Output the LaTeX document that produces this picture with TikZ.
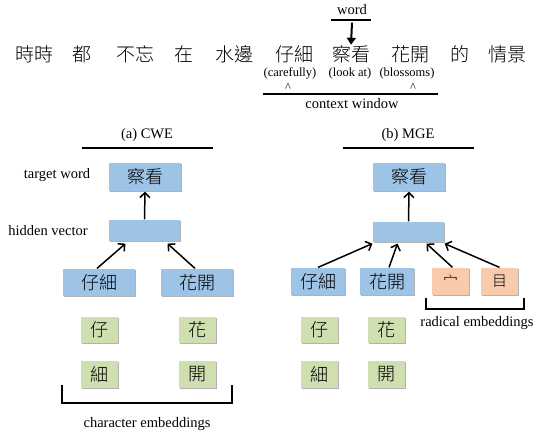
\documentclass[tikz,border=0pt]{standalone}
\usepackage{fontspec}
\setmainfont{Liberation Serif}
\newfontfamily\cjk{Noto Sans CJK TC Light}
\usepackage{xcolor}
\usetikzlibrary{positioning, arrows.meta, shadows}
\definecolor{wordblue}{HTML}{9DC3E6}
\definecolor{chargreen}{HTML}{D0DFB0}
\definecolor{radorange}{HTML}{F8CBAD}

\begin{document}
\begin{tikzpicture}[x=1pt, y=-1pt, >={Straight Barb[length=5pt,width=10pt]}, line width=1.2pt,
    every node/.style={inner sep=0pt, font=\fontsize{14.5}{16}\selectfont},
    small/.style={font=\fontsize{12.5}{14}\selectfont},
    sent/.style={font=\cjk\fontsize{19}{21}\selectfont},
    box/.style={minimum height=27pt, font=\cjk\fontsize{18}{20}\selectfont,
      drop shadow={shadow xshift=1pt, shadow yshift=-1.2pt, opacity=0.3, fill=black}},
    wordbox/.style={box, fill=wordblue, minimum width=72pt},
    charbox/.style={box, fill=chargreen, minimum width=37pt},
    radbox/.style={box, fill=radorange, minimum width=37pt},
    link/.style={->, line width=1.5pt}]
    \useasboundingbox (0,0) rectangle (537,437);

    % sentence
    \foreach \w/\x [count=\i] in {時時/34, 都/82, 不忘/135, 在/184, 水邊/234, 仔細/294, 察看/351, 花開/410, 的/460, 情景/507}
    \node[sent] (s\i) at (\x,54) {\w};
    \node (word) at (352,10) {word};
    \draw (331,20) -- (371,20);
    \draw[-{Triangle[length=7pt,width=9pt]}, line width=2pt] (word.south) ++(0,7) -- (s7.north);
    \node[small] (care) at (290,73) {(carefully)};
    \node[small] (look) at (350,73) {(look at)};
    \node[small] (bloss) at (407,73) {(blossoms)};
    \node[small] (c1) at (288,87) {\^{}};
    \node[small] (c2) at (413,87) {\^{}};
    \draw (263,94) -- (438,94);
    \node (ctx) at (352,104) {context window};

    % (a) CWE
    \node (titleA) at (147,135) {(a) CWE};
    \draw (82,148) -- (213,148);
    \node (lbltgt) at (57,175) {target word};
    \node (lblhid) at (48,231) {hidden vector};
    \node[wordbox, minimum height=28pt] (tgtA) at (145,177) {察看};
    \node[wordbox, minimum width=71pt, minimum height=21pt] (hidA) at (144.5,230.5) {};
    \node[wordbox] (xiA) at (99,282.5) {仔細};
    \node[wordbox] (huaA) at (197,282.5) {花開};
    \node[charbox, minimum height=26pt] (ziA) at (99.5,330) {仔};
    \node[charbox] (xA) at (99.5,374.5) {細};
    \node[charbox, minimum height=26pt] (hA) at (197.5,330) {花};
    \node[charbox] (kA) at (197.5,374.5) {開};
    \draw[link] (hidA.north) -- (tgtA.south);
    \draw[link] ([xshift=-2pt]xiA.north) -- ([xshift=-19pt,yshift=-2pt]hidA.south);
    \draw[link] ([xshift=-2pt]huaA.north) -- ([xshift=23pt,yshift=-2pt]hidA.south);
    \draw (62,385) -- (62,403) -- (232,403) -- (232,385);
    \node (charemb) at (147,424) {character embeddings};

    % (b) MGE
    \node (titleB) at (408,135) {(b) MGE};
    \draw (343,148) -- (474,148);
    \node[wordbox, minimum height=28pt] (tgtB) at (409,177) {察看};
    \node[wordbox, minimum width=71pt, minimum height=20pt] (hidB) at (408.5,232) {};
    \node[wordbox, minimum width=54pt] (xiB) at (318,281.5) {仔細};
    \node[wordbox, minimum width=54pt] (huaB) at (387,281.5) {花開};
    \node[radbox] (mian) at (450.5,281.5) {\fontsize{15}{17}\selectfont 宀};
    \node[radbox] (mu) at (499.5,281.5) {\fontsize{15}{17}\selectfont 目};
    \node[charbox, minimum height=26pt] (ziB) at (319.5,330) {仔};
    \node[charbox] (xB) at (319.5,374.5) {細};
    \node[charbox, minimum height=26pt] (hB) at (386.5,330) {花};
    \node[charbox] (kB) at (386.5,374.5) {開};
    \draw[link] (hidB.north) -- (tgtB.south);
    \draw[link] (xiB.north) -- ([yshift=-1pt]hidB.south west);
    \draw[link] ([xshift=2pt]huaB.north) -- ([xshift=-11pt,yshift=-1pt]hidB.south);
    \draw[link] ([xshift=2pt]mian.north) -- ([xshift=18pt,yshift=-1pt]hidB.south);
    \draw[link] (mu.north) -- ([yshift=-1pt]hidB.south east);
    \draw (426,298) -- (426,309) -- (524,309) -- (524,298);
    \node (rademb) at (477,323) {radical embeddings};
\end{tikzpicture}
\end{document}
